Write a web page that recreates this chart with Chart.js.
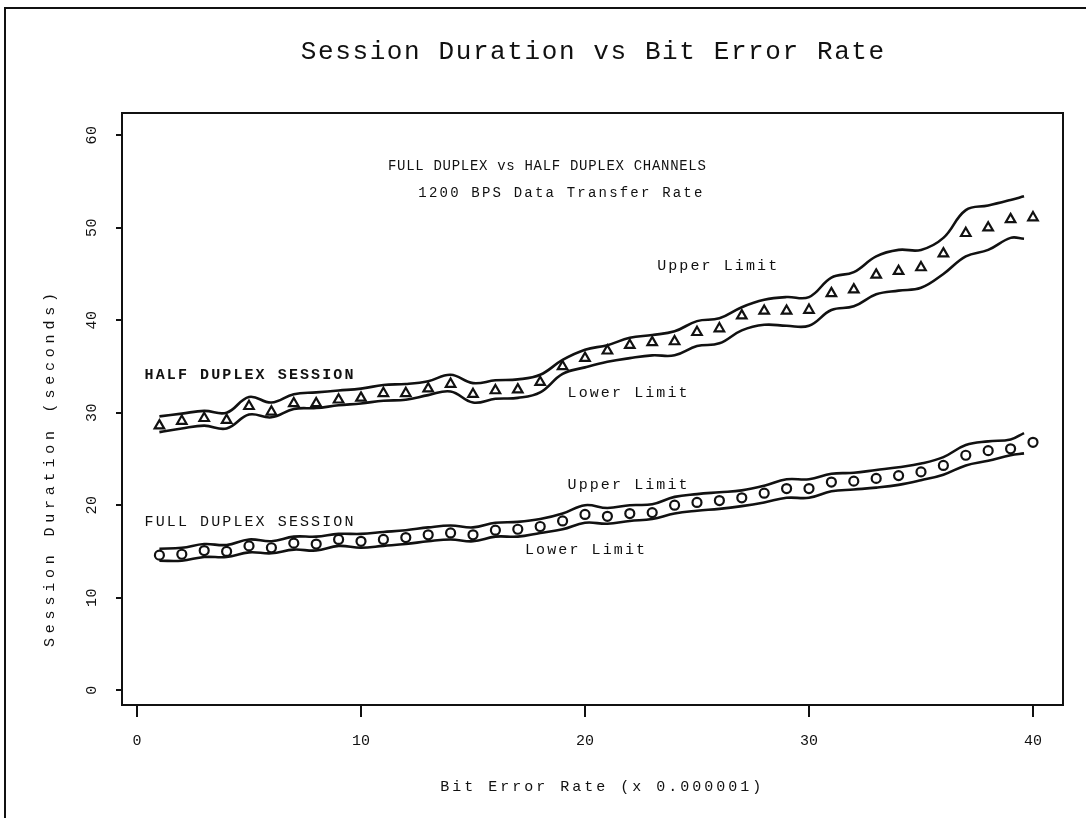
<!DOCTYPE html>
<html>
<head>
<meta charset="utf-8">
<script src="https://cdn.jsdelivr.net/npm/chart.js@4.4.0/dist/chart.umd.min.js"></script>
<style>
html, body { margin: 0; padding: 0; background: #fff; }
#wrap { position: relative; width: 1086px; height: 818px; }
#frame { position: absolute; left: 4px; top: 7px; right: 0; bottom: 0; border-top: 2px solid #111; border-left: 2px solid #111; }
canvas { position: absolute; left: 0; top: 0; }
</style>
</head>
<body>
<div id="wrap"><div id="frame"></div><canvas id="chart" width="1086" height="818"></canvas></div>
<script>
const ctx = document.querySelector('#chart')

// bit error rate (x 0.000001)
const errorRate = [1,2,3,4,5,6,7,8,9,10,11,12,13,14,15,16,17,18,19,20,
    21,22,23,24,25,26,27,28,29,30,31,32,33,34,35,36,37,38,39,40]
const limitRate = [1,2,3,4,5,6,7,8,9,10,11,12,13,14,15,16,17,18,19,20,
    21,22,23,24,25,26,27,28,29,30,31,32,33,34,35,36,37,38,39,39.6]

// half duplex session (seconds)
const halfMean = [28.6,29.1,29.4,29.2,30.7,30.1,31.0,31.0,31.4,31.6,
    32.1,32.1,32.6,33.1,32.0,32.4,32.5,33.3,35.0,35.9,
    36.7,37.3,37.6,37.7,38.7,39.1,40.5,41.0,41.0,41.1,
    42.9,43.3,44.9,45.3,45.7,47.2,49.4,50.0,50.9,51.1]
const halfUpper = [29.6,29.9,30.2,30.0,31.7,31.1,32.0,32.2,32.4,32.6,
    33.0,33.1,33.4,34.1,33.2,33.5,33.6,34.1,35.7,36.8,
    37.3,38.1,38.4,38.8,39.9,40.2,41.4,42.2,42.5,42.5,
    44.6,45.2,46.9,47.6,47.6,48.9,51.9,52.4,53.0,53.4]
const halfLower = [27.9,28.3,28.6,28.3,29.8,29.5,30.4,30.5,30.8,31.0,
    31.3,31.4,31.9,32.3,31.1,31.5,31.6,32.2,34.2,34.9,
    35.5,35.9,36.2,36.2,37.2,37.5,38.9,39.5,39.4,39.4,
    41.1,41.5,42.8,43.2,43.5,45.0,46.9,47.6,48.9,48.8]

// full duplex session (seconds)
const fullMean = [14.6,14.7,15.1,15.0,15.6,15.4,15.9,15.8,16.3,16.1,
    16.3,16.5,16.8,17.0,16.8,17.3,17.4,17.7,18.3,19.0,
    18.8,19.1,19.2,20.0,20.3,20.5,20.8,21.3,21.8,21.8,
    22.5,22.6,22.9,23.2,23.6,24.3,25.4,25.9,26.1,26.8]
const fullUpper = [15.3,15.4,15.8,15.7,16.3,16.1,16.6,16.6,16.9,16.9,
    17.1,17.3,17.6,17.8,17.6,18.1,18.2,18.5,19.1,20.0,
    19.7,20.0,20.1,20.9,21.2,21.4,21.6,22.1,22.8,22.8,
    23.4,23.5,23.8,24.1,24.5,25.2,26.5,26.9,27.1,27.8]
const fullLower = [14.0,14.0,14.4,14.4,14.9,14.8,15.2,15.1,15.6,15.4,
    15.6,15.8,16.1,16.3,16.1,16.6,16.6,17.0,17.4,18.1,
    18.0,18.3,18.5,19.1,19.4,19.6,19.9,20.3,20.8,20.8,
    21.5,21.7,21.9,22.2,22.7,23.3,24.3,24.8,25.4,25.6]

const xTicks = [0, 10, 20, 30, 40]
const yTicks = [0, 10, 20, 30, 40, 50, 60]

const chartTitle = 'Session Duration vs Bit Error Rate'
const xTitle = 'Bit Error Rate (x 0.000001)'
const yTitle = 'Session Duration (seconds)'

// text labels placed in data coordinates
const notes = [
    { text: 'FULL DUPLEX vs HALF DUPLEX CHANNELS', x: 18.3, y: 56.6, size: 14, spacing: 0.7 },
    { text: '1200 BPS Data Transfer Rate', x: 18.9, y: 53.7, size: 14, spacing: 2.2 },
    { text: 'Upper Limit', x: 25.9, y: 45.9, size: 15, spacing: 2.1 },
    { text: 'HALF DUPLEX SESSION', x: 5.0, y: 34.1, size: 15, spacing: 2.1, bold: true },
    { text: 'Lower Limit', x: 21.9, y: 32.1, size: 15, spacing: 2.1 },
    { text: 'Upper Limit', x: 21.9, y: 22.2, size: 15, spacing: 2.1 },
    { text: 'FULL DUPLEX SESSION', x: 5.0, y: 18.2, size: 15, spacing: 2.1 },
    { text: 'Lower Limit', x: 20.0, y: 15.1, size: 15, spacing: 2.1 }
]

const ink = '#111'
const mono = '"Liberation Mono", "DejaVu Sans Mono", monospace'

function points(xs, ys) {
    return ys.map((v, i) => ({ x: xs[i], y: v }))
}

function limitLine(values) {
    return {
        data: points(limitRate, values),
        showLine: true,
        borderColor: ink,
        borderWidth: 2.6,
        tension: 0.4,
        pointRadius: 0,
        fill: false
    }
}

function markers(values, style, radius) {
    return {
        data: points(errorRate, values),
        showLine: false,
        pointStyle: style,
        pointRadius: radius,
        pointBorderWidth: 2.2,
        pointBorderColor: ink,
        pointBackgroundColor: '#fff'
    }
}

function text(c, str, x, y, size, spacing, bold, angle) {
    c.save()
    c.translate(x, y)
    if (angle) c.rotate(angle)
    c.font = (bold ? 'bold ' : '') + size + 'px ' + mono
    c.letterSpacing = spacing + 'px'
    c.fillStyle = ink
    c.textAlign = 'center'
    c.textBaseline = 'middle'
    c.fillText(str, spacing / 2, 0)
    c.restore()
}

const decorations = {
    id: 'decorations',
    afterDraw(chart) {
        const c = chart.ctx
        const area = chart.chartArea
        const xs = chart.scales.x
        const ys = chart.scales.y

        c.save()
        c.strokeStyle = ink
        c.lineWidth = 2
        c.strokeRect(area.left, area.top, area.right - area.left, area.bottom - area.top)
        c.restore()

        text(c, chartTitle, (area.left + area.right) / 2, 52, 26, 1.6)
        text(c, xTitle, xs.getPixelForValue(20.7), 787, 15, 3)
        text(c, yTitle, 50, 470, 15, 4.8, false, -Math.PI / 2)

        yTicks.forEach(v => {
            text(c, String(v), 92, ys.getPixelForValue(v), 15, 0.5, false, -Math.PI / 2)
        })

        notes.forEach(n => {
            text(c, n.text, xs.getPixelForValue(n.x), ys.getPixelForValue(n.y), n.size, n.spacing, n.bold)
        })
    }
}

const config = {
    type: 'scatter',
    data: {
        datasets: [
            limitLine(halfUpper),
            limitLine(halfLower),
            markers(halfMean, 'triangle', 5.5),
            limitLine(fullUpper),
            limitLine(fullLower),
            markers(fullMean, 'circle', 4.5)
        ]
    },
    options: {
        responsive: false,
        animation: false,
        layout: {
            padding: { top: 113, right: 23, bottom: 0, left: 0 }
        },
        scales: {
            x: {
                type: 'linear',
                min: -0.67,
                max: 41.34,
                afterBuildTicks: scale => {
                    scale.ticks = xTicks.map(v => ({ value: v }))
                },
                afterFit: scale => {
                    scale.height = 113
                },
                border: { display: false },
                grid: {
                    drawOnChartArea: false,
                    tickLength: 12,
                    color: ink,
                    lineWidth: 2
                },
                ticks: {
                    color: ink,
                    padding: 15,
                    maxRotation: 0,
                    font: { family: mono, size: 15 },
                    callback: value => String(value)
                }
            },
            y: {
                type: 'linear',
                min: -1.6,
                max: 62.4,
                afterBuildTicks: scale => {
                    scale.ticks = yTicks.map(v => ({ value: v }))
                },
                afterFit: scale => {
                    scale.width = 122
                },
                border: { display: false },
                grid: {
                    drawOnChartArea: false,
                    tickLength: 6,
                    color: ink,
                    lineWidth: 2
                },
                ticks: {
                    display: false
                }
            }
        },
        plugins: {
            legend: { display: false },
            tooltip: { enabled: false }
        }
    },
    plugins: [decorations]
}

new Chart(ctx, config)
</script>
</body>
</html>
